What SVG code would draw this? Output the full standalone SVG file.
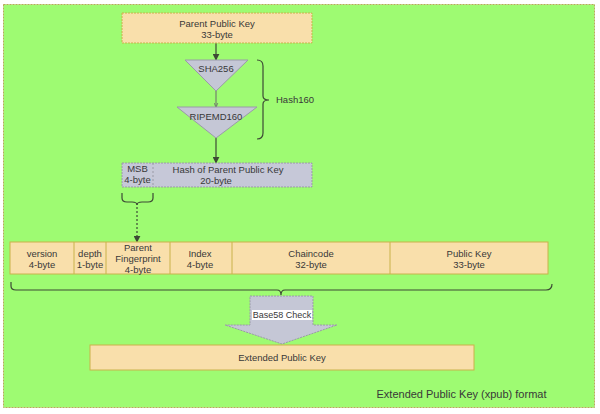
<svg xmlns="http://www.w3.org/2000/svg" width="600" height="414" viewBox="0 0 600 414">
<defs>
<style>
.t{font-family:"Liberation Sans",Arial,sans-serif;font-size:9.5px;fill:#383838;text-anchor:middle}
.peach{fill:#f9dfab;stroke:#c9b24a;stroke-width:1}
.tri{fill:#c5c7d6;stroke:#9a9aa8;stroke-width:1}
.ln{fill:none;stroke:#3d4a35;stroke-width:1.2}
.br{fill:none;stroke:#3d4a35;stroke-width:1.2}
</style>
<marker id="ah" viewBox="0 0 10 10" refX="9" refY="5" markerWidth="7" markerHeight="7" orient="auto" markerUnits="userSpaceOnUse">
<path d="M0,0 L10,5 L0,10 z" fill="#3d4a35"/>
</marker>
<marker id="ahs" viewBox="0 0 10 10" refX="9" refY="5" markerWidth="5" markerHeight="5" orient="auto" markerUnits="userSpaceOnUse">
<path d="M0,1 L10,5 L0,9" fill="none" stroke="#6a6a6a" stroke-width="1.5"/>
</marker>
</defs>
<rect x="0" y="0" width="600" height="414" fill="#ffffff"/>
<rect x="3.5" y="4.5" width="591" height="403" fill="#9efb72" stroke="#b8a85a" stroke-width="1" stroke-dasharray="2,1"/>

<g id="connectors">
<line class="ln" x1="216" y1="43" x2="216" y2="60" marker-end="url(#ah)"/>
<line x1="216" y1="91" x2="216" y2="107" stroke="#6a6a6a" stroke-width="1" marker-end="url(#ahs)"/>
<line class="ln" x1="216" y1="138" x2="216" y2="163" marker-end="url(#ah)"/>
<line x1="137" y1="203" x2="137" y2="242" stroke="#3d4a35" stroke-width="1.2" stroke-dasharray="2,2" marker-end="url(#ah)"/>
</g>

<g id="parent-key">
<rect class="peach" x="122" y="13" width="190" height="30" stroke-dasharray="2,1"/>
<text class="t" x="217" y="27">Parent Public Key</text>
<text class="t" x="217" y="38">33-byte</text>
</g>

<g id="sha256">
<polygon class="tri" points="185,60 248,60 216,91"/>
<text class="t" x="216" y="72">SHA256</text>
</g>

<g id="ripemd160">
<polygon class="tri" points="177,107 257,107 216,138"/>
<text class="t" x="216" y="120">RIPEMD160</text>
</g>

<g id="hash160">
<path class="br" d="M257,60 Q263,60 263,66 L263,96 Q263,100 269,100 Q263,100 263,104 L263,133 Q263,139 257,139"/>
<text x="276" y="103" style="font-family:'Liberation Sans',Arial,sans-serif;font-size:9.5px;fill:#383838">Hash160</text>
</g>

<g id="hash-box">
<rect x="122" y="163" width="190" height="24" fill="#c6c8d8" stroke="#9a9aa6" stroke-width="1" stroke-dasharray="2,1"/>
<line x1="153" y1="163" x2="153" y2="187" stroke="#9a9aa6" stroke-width="1" stroke-dasharray="2,2"/>
<text class="t" x="137.5" y="172">MSB</text>
<text class="t" x="137.5" y="183">4-byte</text>
<text class="t" x="228" y="173">Hash of Parent Public Key</text>
<text class="t" x="216" y="184">20-byte</text>
</g>

<g id="msb-brace">
<path class="br" d="M122,193 L122,198 Q122,202 127,202 L132,202 Q137,202 137,205 Q137,202 142,202 L148,202 Q153,202 153,198 L153,193"/>
</g>

<g id="fields">
<rect class="peach" x="10" y="242" width="538" height="32"/>
<line x1="74" y1="242" x2="74" y2="274" stroke="#c9b24a"/>
<line x1="106" y1="242" x2="106" y2="274" stroke="#c9b24a"/>
<line x1="170" y1="242" x2="170" y2="274" stroke="#c9b24a"/>
<line x1="232" y1="242" x2="232" y2="274" stroke="#c9b24a"/>
<line x1="390" y1="242" x2="390" y2="274" stroke="#c9b24a"/>
<text class="t" x="42" y="257">version</text>
<text class="t" x="42" y="268">4-byte</text>
<text class="t" x="90" y="257">depth</text>
<text class="t" x="90" y="268">1-byte</text>
<text class="t" x="138" y="251">Parent</text>
<text class="t" x="138" y="262">Fingerprint</text>
<text class="t" x="138" y="273">4-byte</text>
<text class="t" x="200" y="257">Index</text>
<text class="t" x="200" y="268">4-byte</text>
<text class="t" x="311" y="257">Chaincode</text>
<text class="t" x="311" y="268">32-byte</text>
<text class="t" x="469" y="257">Public Key</text>
<text class="t" x="469" y="268">33-byte</text>
</g>

<g id="fields-brace">
<path class="br" d="M11,282 L11,286 Q11,290 16,290 L277,290 Q281,290 281,295 Q281,290 285,290 L546,290 Q552,290 552,284"/>
</g>

<g id="base58">
<polygon points="250,296 313,296 313,325 337,325 282,344 225,325 250,325" fill="#c5c7d6" stroke="#9a9aa8" stroke-width="1" stroke-dasharray="2,1"/>
<rect x="252" y="310" width="60" height="10" fill="#ffffff"/>
<text class="t" x="282" y="318" style="font-size:9px">Base58 Check</text>
</g>

<g id="xpub">
<rect class="peach" x="90" y="345" width="384" height="25"/>
<text class="t" x="282" y="361">Extended Public Key</text>
</g>

<text x="461.5" y="397.5" style="font-family:'Liberation Sans',Arial,sans-serif;font-size:11px;fill:#383838;text-anchor:middle">Extended Public Key (xpub) format</text>
</svg>
